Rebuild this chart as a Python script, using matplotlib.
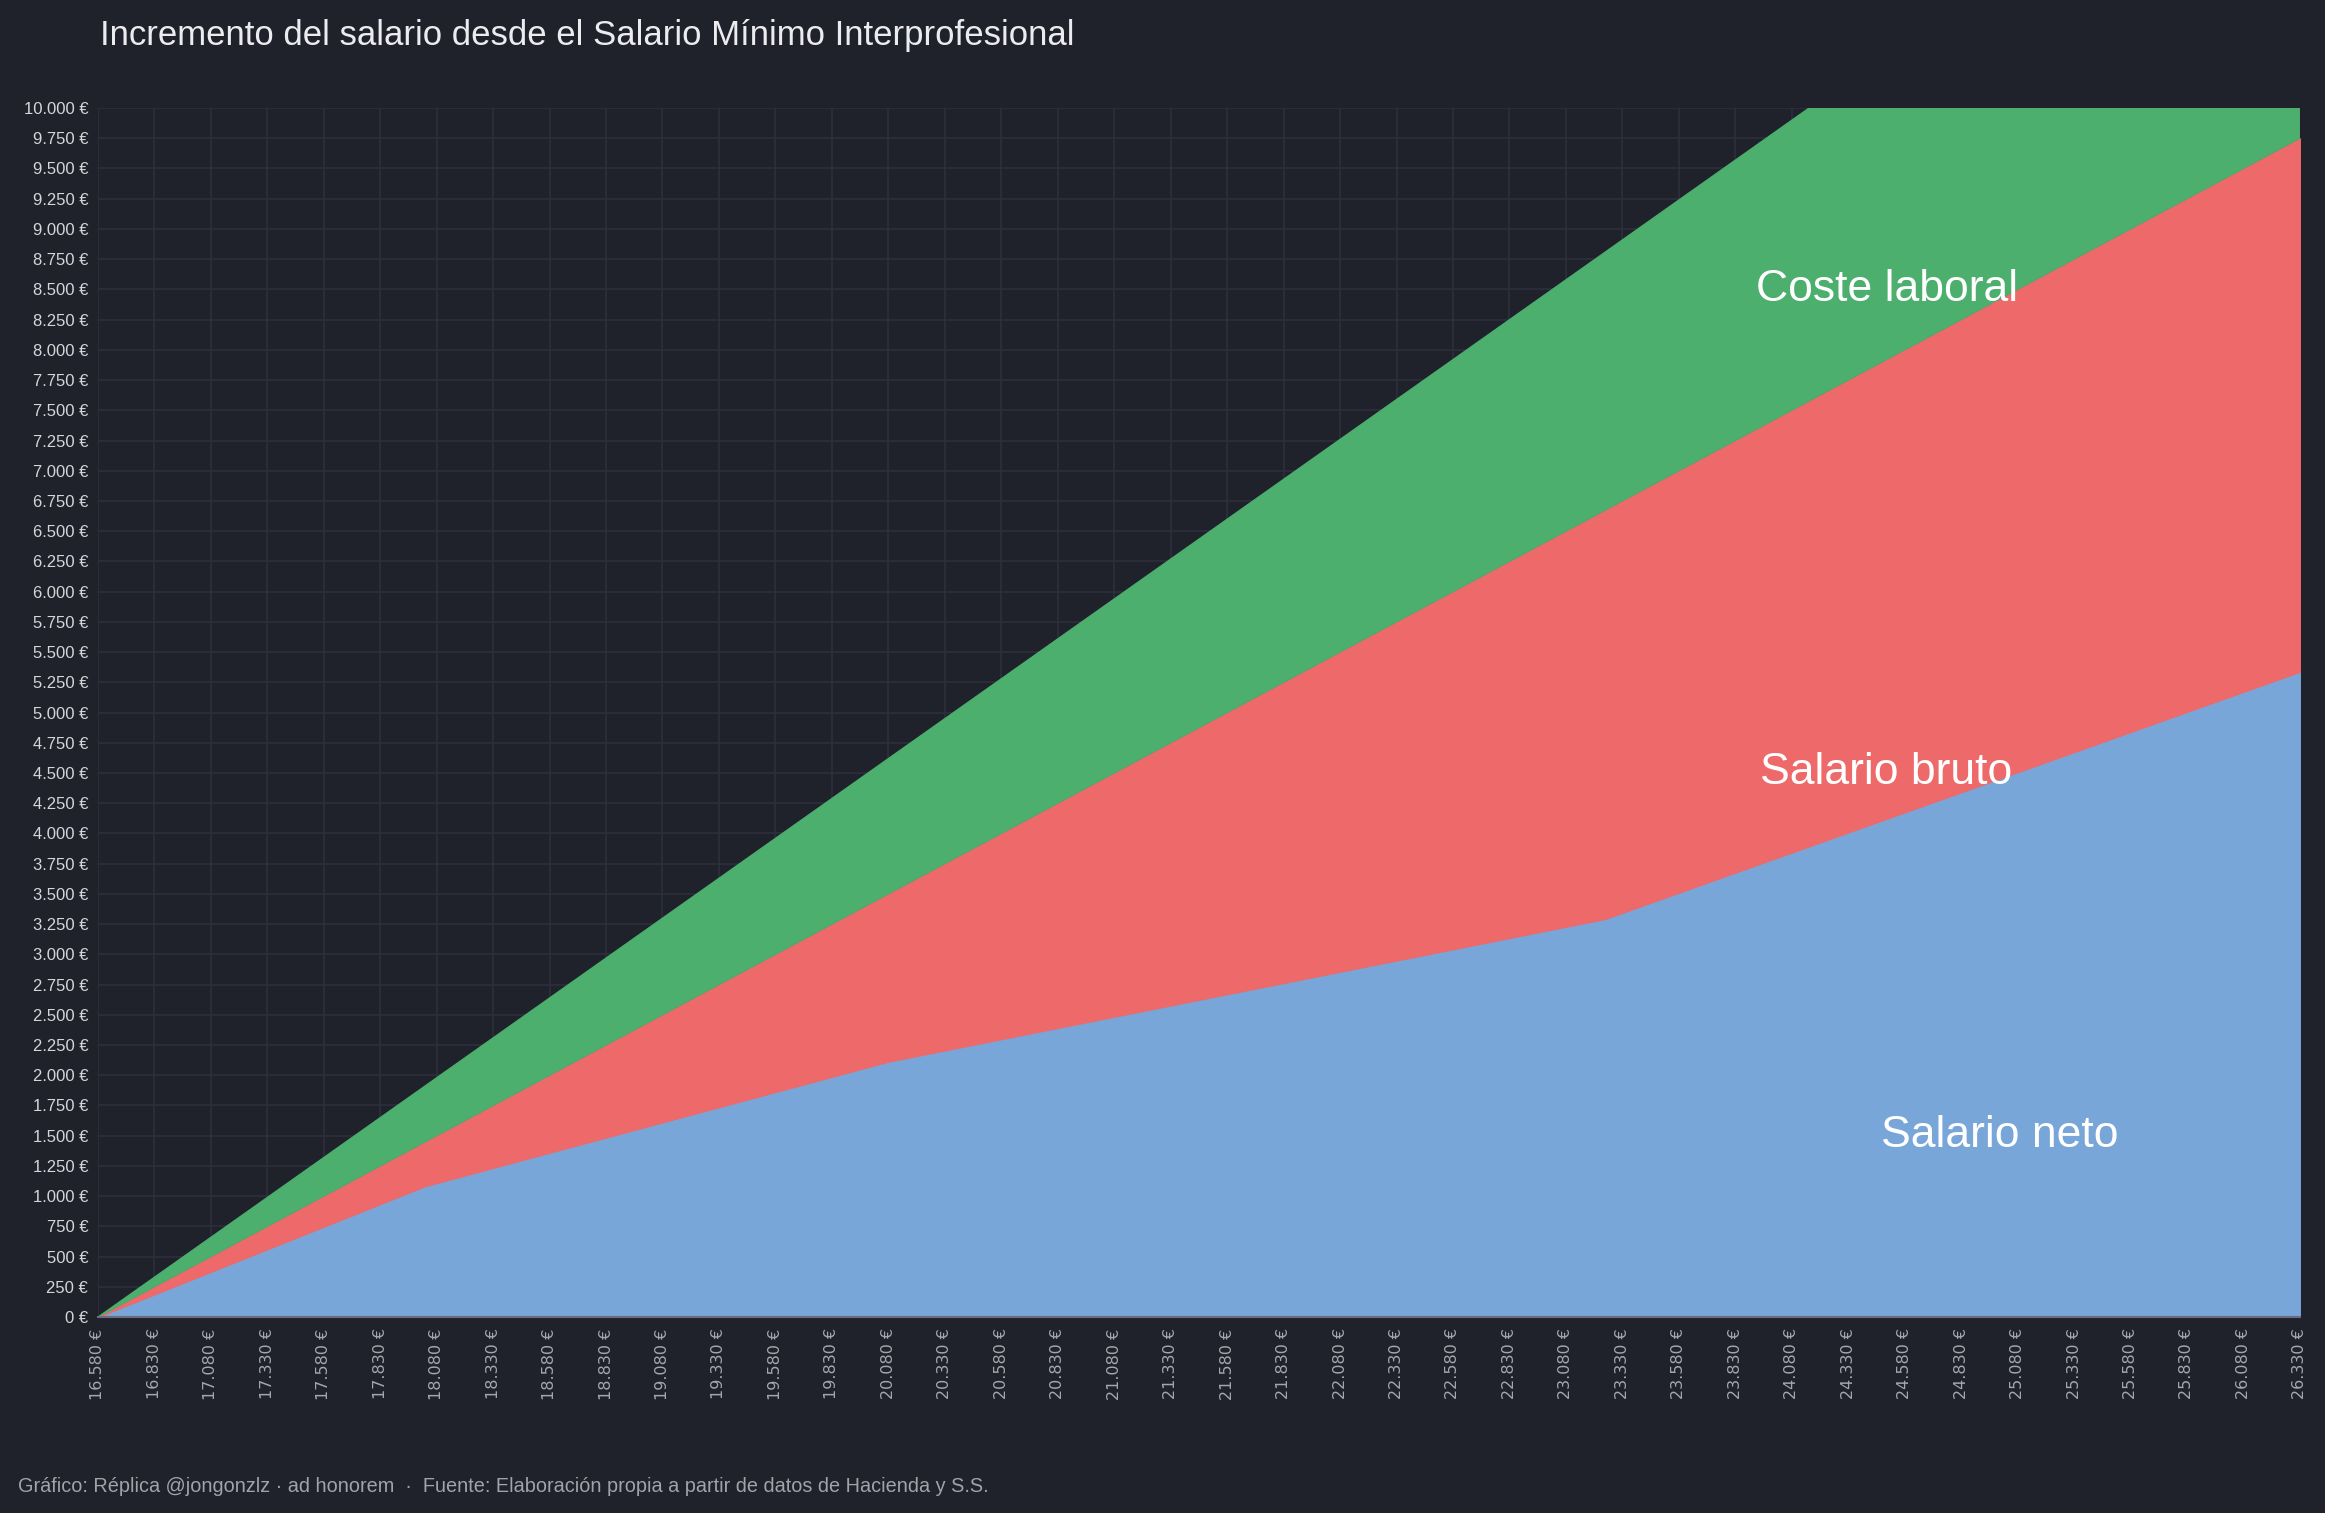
#!/usr/bin/env python3

import numpy as np
import matplotlib.pyplot as plt
from matplotlib.ticker import FuncFormatter

# salario bruto anual (eje x) y su incremento sobre el SMI
salario = [16580, 18030, 20080, 23253, 26330]
neto = [0, 1083, 2112, 3292, 5337]
bruto = [0, 1450, 3500, 6673, 9750]
coste = [0, 1914, 4620, 8808, 12870]

x_ticks = list(range(16580, 26331, 250))
y_ticks = list(range(0, 10001, 250))

BG = '#1f212b'
GRID = '#2d303c'

plt.rcParams['font.family'] = ['Liberation Sans', 'DejaVu Sans']


def euro(v, pos=None):
  return f"{int(round(v)):,} €".replace(',', '.')


def draw_chart():
  fig = plt.figure(figsize=(23.25, 15.13), dpi=100, facecolor=BG)
  ax = fig.add_axes([0.0421, 0.1295, 0.9471, 0.7991])
  ax.set_facecolor(BG)

  layers = [(0, neto, '#78a6d8'), (neto, bruto, '#ee6a6a'), (bruto, coste, '#4caf6e')]
  for low, high, col in layers:
    ax.fill_between(salario, low, high, facecolor=col, edgecolor=col, linewidth=0.8, zorder=2)

  ax.set_xlim(x_ticks[0], x_ticks[-1])
  ax.set_ylim(0, 10000)
  ax.set_xticks(x_ticks)
  ax.set_yticks(y_ticks)
  ax.xaxis.set_major_formatter(FuncFormatter(euro))
  ax.yaxis.set_major_formatter(FuncFormatter(euro))

  ax.grid(True, color=GRID, linewidth=1.2, zorder=0)
  ax.set_axisbelow(True)
  for side in ('top', 'right', 'left'):
    ax.spines[side].set_visible(False)
  ax.spines['bottom'].set_color('#6e6a80')
  ax.spines['bottom'].set_linewidth(1.5)
  ax.spines['bottom'].set_zorder(3)

  ax.tick_params(axis='both', length=0)
  ax.tick_params(axis='y', pad=7, labelsize=12, labelcolor='#d6d6da')
  ax.tick_params(axis='x', pad=8, labelsize=11.5, labelcolor='#a6a6ae')
  for lbl in ax.get_xticklabels():
    lbl.set_rotation(90)
    lbl.set_family('DejaVu Sans')
    lbl.set_va('top')
    lbl.set_ha('center')

  label_kw = dict(color='white', fontsize=32, ha='center', va='center', zorder=4)
  ax.text(24500, 8500, 'Coste laboral', **label_kw)
  ax.text(24500, 4500, 'Salario bruto', **label_kw)
  ax.text(25000, 1500, 'Salario neto', **label_kw)

  fig.text(0.043, 1 - 35 / 1513, 'Incremento del salario desde el Salario Mínimo Interprofesional',
           color='#ececf0', fontsize=25, ha='left', va='center')
  fig.text(18 / 2325, 1 - 1486 / 1513,
           'Gráfico: Réplica @jongonzlz · ad honorem  ·  Fuente: Elaboración propia a partir de datos de Hacienda y S.S.',
           color='#a2a2aa', fontsize=14.3, ha='left', va='center')

  fig.savefig('out.png', dpi=100, facecolor=BG)


if __name__ == "__main__":
  draw_chart()
